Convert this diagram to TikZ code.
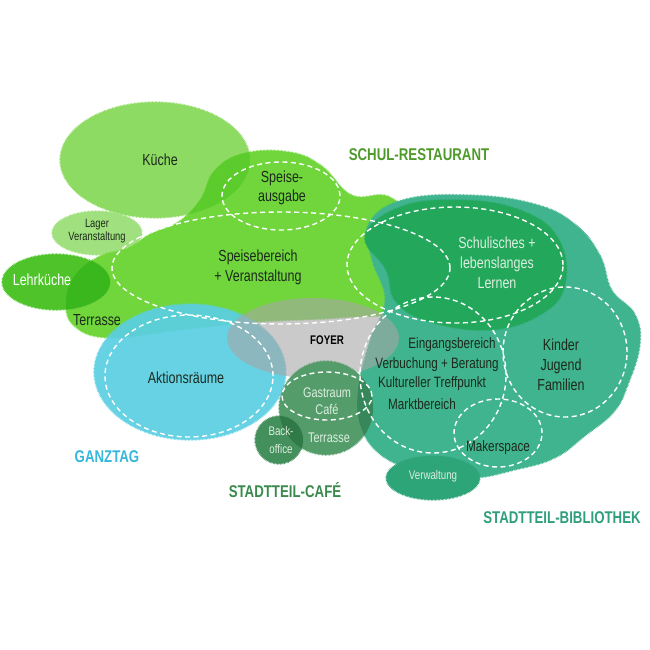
\documentclass[tikz,border=0pt]{standalone}
\usepackage{fontspec}
\setmainfont{Liberation Sans}[FakeStretch=0.78]
\usepackage{tikz}
\usetikzlibrary{decorations.pathmorphing}

\definecolor{kueche}{HTML}{8EDB63}
\definecolor{kuechedark}{HTML}{5CCB2C}
\definecolor{lager}{HTML}{A0E07E}
\definecolor{schul}{HTML}{70D63C}
\definecolor{lehr}{HTML}{4EC42A}
\definecolor{lehrdark}{HTML}{3AB71D}
\definecolor{bib}{HTML}{40B48E}
\definecolor{lernen}{HTML}{22A75B}
\definecolor{ganztag}{HTML}{5BCFE2}
\definecolor{foyer}{HTML}{A6A6A6}
\definecolor{cafe}{HTML}{559C6B}
\definecolor{cafedark}{HTML}{36885A}
\definecolor{backoff}{HTML}{44905C}
\definecolor{cafedeep}{HTML}{2F7A47}
\definecolor{verw}{HTML}{2EA479}
\definecolor{txt}{HTML}{1C2A1C}
\definecolor{soft}{HTML}{DCEFE0}
\definecolor{capschul}{HTML}{4E9A2A}
\definecolor{capganz}{HTML}{38B7DB}
\definecolor{capcafe}{HTML}{3A8A4E}
\definecolor{capbib}{HTML}{2F9E7C}

\newcommand\schulblob{plot[smooth cycle, tension=0.7] coordinates {(200,200) (215,170) (245,153) (290,152) (322,166) (352,195) (390,197) (420,230) (425,275) (405,310) (340,318) (260,322) (180,330) (110,338) (74,326) (66,300) (76,274) (100,256) (128,248) (150,234) (178,222)}}
\newcommand\bibblob{plot[smooth cycle, tension=0.7] coordinates {(368,225) (402,200) (470,195) (535,204) (575,224) (600,255) (612,290) (635,314) (640,345) (628,385) (614,412) (585,436) (555,458) (515,470) (470,478) (420,470) (385,458) (362,430) (358,390) (370,340) (385,300) (372,260)}}
\newcommand\cafecircle{(326,408) circle [radius=47pt]}

\tikzset{
    fuzzy/.style={decorate, decoration={zigzag, segment length=1.4pt, amplitude=0.9pt}},
    zone/.style={draw=white, line width=1.4pt, dash pattern=on 5pt off 3.5pt},
    lbl/.style={text=txt, align=center, font=\fontsize{16}{20}\selectfont},
    lbllib/.style={text=txt, font=\fontsize{15}{19}\selectfont},
    lblsoft/.style={text=soft, align=center, font=\fontsize{14}{17}\selectfont},
    lblsmall/.style={text=txt, align=center, font=\fontsize{12}{15}\selectfont},
    caption/.style={font=\bfseries\fontsize{17}{20}\selectfont}
}

\begin{document}
\begin{tikzpicture}[x=1pt, y=-1pt]
                        \useasboundingbox (0,0) rectangle (650,650);
                        \fill[kueche, fuzzy] (155,160) ellipse [x radius=95pt, y radius=58pt];
                        \fill[lager, fuzzy] (97,233) ellipse [x radius=45pt, y radius=22pt];
                        \fill[schul, fuzzy] \schulblob;
                        \begin{scope}
                            \clip (155,160) ellipse [x radius=95pt, y radius=58pt];
                            \fill[kuechedark] \schulblob;
                        \end{scope}
                        \fill[lehr, fuzzy] (56,282) ellipse [x radius=54pt, y radius=28pt];
                        \begin{scope}
                            \clip (56,282) ellipse [x radius=54pt, y radius=28pt];
                            \fill[lehrdark] \schulblob;
                        \end{scope}
                        \fill[bib, fuzzy] \bibblob;
                        \fill[lernen, fuzzy] plot[smooth cycle, tension=0.7] coordinates {(365,236) (400,207) (460,200) (520,210) (558,238) (565,285) (540,315) (490,330) (430,322) (396,302) (386,270)};
                        \fill[ganztag, fuzzy, fill opacity=0.93] (190,372) ellipse [x radius=96pt, y radius=68pt];
                        \fill[foyer, fill opacity=0.6] (313,338) ellipse [x radius=86pt, y radius=40pt];
                        \fill[cafe, fuzzy] \cafecircle;
                        \begin{scope}
                            \clip \bibblob;
                            \fill[cafedark] \cafecircle;
                        \end{scope}
                        \fill[backoff, fuzzy] (279,440) circle [radius=24pt];
                        \begin{scope}
                            \clip (279,440) circle [radius=24pt];
                            \fill[cafedeep] \cafecircle;
                        \end{scope}
                        \fill[verw, fuzzy] (433,478) ellipse [x radius=47pt, y radius=22pt];
                        \draw[zone]
                        (281,196) ellipse [x radius=59pt, y radius=34pt]
                        (281,268) ellipse [x radius=169pt, y radius=56pt]
                        (455,265) ellipse [x radius=108pt, y radius=58pt]
                        (189,376) ellipse [x radius=84pt, y radius=61pt]
                        (327,396) ellipse [x radius=45pt, y radius=24pt]
                        (433,375) ellipse [x radius=73pt, y radius=78pt]
                        (565,352) ellipse [x radius=62pt, y radius=65pt]
                        (498,433) ellipse [x radius=44pt, y radius=34pt];
                        \node[lbl] (kueche) at (160,160) {Küche};
                        \node[lblsmall] (lager) at (97,231) {Lager\\[-2pt]Veranstaltung};
                        \node[lbl, text=white] (lehrkueche) at (42,280) {Lehrküche};
                        \node[lbl] (terrasse) at (97,320) {Terrasse};
                        \node[lbl, font=\fontsize{16}{19}\selectfont] (ausgabe) at (282,188) {Speise-\\ausgabe};
                        \node[lbl] (speise) at (258,267) {Speisebereich\\+ Veranstaltung};
                        \node[lbl, text=soft] (lernen) at (497,263) {Schulisches +\\lebenslanges\\Lernen};
                        \node[lbl] (aktion) at (186,378) {Aktionsräume};
                        \node[caption, font=\bfseries\fontsize{12.5}{15}\selectfont] (foyer) at (327,340) {FOYER};
                        \node[lblsoft] (gastraum) at (327,401) {Gastraum\\Café};
                        \node[lblsoft] (terrassecafe) at (329,438) {Terrasse};
                        \node[lblsoft, font=\fontsize{12.5}{18}\selectfont] (backoffice) at (281,440) {Back-\\office};
                        \node[lbllib] (eing1) at (452,345) {Eingangsbereich};
                        \node[lbllib] (eing2) at (437,365) {Verbuchung + Beratung};
                        \node[lbllib] (eing3) at (432,384) {Kultureller Treffpunkt};
                        \node[lbllib] (eing4) at (422,404) {Marktbereich};
                        \node[lbl] (kinder) at (561,365) {Kinder\\Jugend\\Familien};
                        \node[lbllib] (maker) at (498,448) {Makerspace};
                        \node[lblsoft, font=\fontsize{12.5}{15}\selectfont] (verwaltung) at (433,476) {Verwaltung};
                        \node[caption, text=capschul] (capschul) at (419,155) {SCHUL-RESTAURANT};
                        \node[caption, text=capganz] (capganz) at (107,457) {GANZTAG};
                        \node[caption, text=capcafe] (capcafe) at (285,490) {STADTTEIL-CAFÉ};
                        \node[caption, text=capbib] (capbib) at (562,518) {STADTTEIL-BIBLIOTHEK};
                    \end{tikzpicture}
\end{document}
